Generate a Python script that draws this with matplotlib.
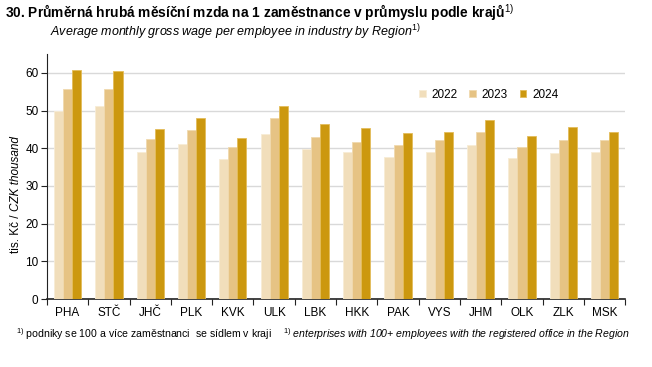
import matplotlib.pyplot as plt
import numpy as np

plt.rcParams['font.family'] = ['Liberation Sans', 'DejaVu Sans']
plt.rcParams['mathtext.fontset'] = 'custom'
plt.rcParams['mathtext.rm'] = 'Liberation Sans'
plt.rcParams['mathtext.it'] = 'Liberation Sans:italic'

regions = ['PHA', 'STČ', 'JHČ', 'PLK', 'KVK', 'ULK', 'LBK', 'HKK', 'PAK', 'VYS', 'JHM', 'OLK', 'ZLK', 'MSK']
years = ['2022', '2023', '2024']
w2022 = [49.9, 51.3, 38.9, 41.2, 37.1, 43.9, 39.9, 38.9, 37.8, 38.9, 40.9, 37.3, 38.8, 39.1]
w2023 = [55.8, 55.8, 42.4, 44.9, 40.4, 48.1, 43.0, 41.6, 40.9, 42.1, 44.4, 40.2, 42.1, 42.3]
w2024 = [60.8, 60.6, 45.1, 48.1, 42.6, 51.2, 46.3, 45.3, 44.1, 44.4, 47.6, 43.3, 45.6, 44.4]
colors = ['#F1DEBB', '#E6C384', '#CC980F']
edges = ['#F7ECD6', '#F0D9AE', '#E3BC5A']

fig = plt.figure(figsize=(6.52, 3.67), dpi=100)
ax = fig.add_axes([0.072, 0.185, 0.887, 0.668])

x = np.arange(len(regions))
bw = 0.22
for i, (vals, c, e) in enumerate(zip([w2022, w2023, w2024], colors, edges)):
    ax.bar(x + (i - 1) * bw, vals, bw, color=c, edgecolor=e, linewidth=0.6,
           label=years[i], zorder=3)

ax.set_xlim(-0.5, len(regions) - 0.5)
ax.set_ylim(0, 65)
ax.set_yticks(range(0, 61, 10))
ax.yaxis.grid(True, color='#D9D9D9', linewidth=1.0, zorder=0)
ax.set_axisbelow(True)
ax.set_xticks(x)
ax.set_xticklabels(regions)
ax.set_xticks(np.arange(-0.5, len(regions), 1), minor=True)
ax.tick_params(axis='x', which='major', length=0, labelsize=8.5, pad=6)
ax.tick_params(axis='x', which='minor', length=4, width=0.8, direction='out', color='#222222')
ax.tick_params(axis='y', length=4, width=0.8, labelsize=8.5, color='#222222', pad=2)
for s in ['top', 'right']:
    ax.spines[s].set_visible(False)
ax.spines['left'].set_color('#222222')
ax.spines['bottom'].set_color('#222222')
ax.spines['bottom'].set_linewidth(1.2)

ax.legend(loc='upper left', bbox_to_anchor=(0.625, 0.9), ncol=3, frameon=False,
          fontsize=8.5, handlelength=0.55, handleheight=0.55, columnspacing=1.0,
          handletextpad=0.5)

fig.text(0.008, 0.965, '30. Průměrná hrubá měsíční mzda na 1 zaměstnance v průmyslu podle krajů$^{1)}$',
         fontsize=9.9, fontweight='bold', va='center')
fig.text(0.077, 0.913, 'Average monthly gross wage per employee in industry by Region$^{1)}$',
         fontsize=9.0, style='italic', va='center')

# y label: mixed upright / italic
t1 = fig.text(0.024, 0.31, 'tis. Kč / ', rotation=90, fontsize=8.5, va='bottom', ha='center')
fig.canvas.draw()
bb = t1.get_window_extent(fig.canvas.get_renderer()).transformed(fig.transFigure.inverted())
fig.text(0.024, bb.y1, 'CZK thousand', rotation=90, fontsize=8.5, style='italic',
         va='bottom', ha='center')

fig.text(0.025, 0.09, '$^{1)}$ podniky se 100 a více zaměstnanci  se sídlem v kraji',
         fontsize=7.6, va='center')
fig.text(0.434, 0.09, '$\\mathit{^{1)}}$ enterprises with 100+ employees with the registered office in the Region',
         fontsize=7.6, style='italic', va='center')

fig.savefig('out.png', dpi=100)
